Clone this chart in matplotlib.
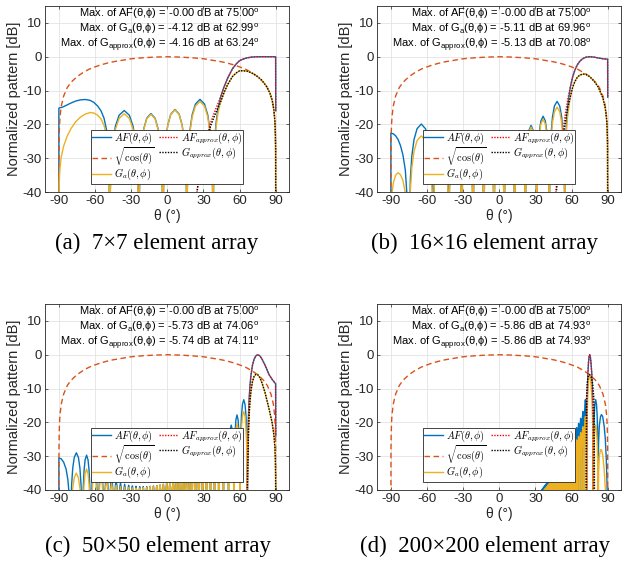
import matplotlib
matplotlib.use("Agg")
import matplotlib.pyplot as plt
from matplotlib.font_manager import FontProperties

plt.rcParams['font.family'] = ['Liberation Sans', 'DejaVu Sans']
plt.rcParams['axes.unicode_minus'] = False
plt.rcParams['mathtext.fontset'] = 'custom'
plt.rcParams['mathtext.rm'] = 'Liberation Sans'
plt.rcParams['mathtext.it'] = 'Liberation Sans:italic'

FLOOR = -60  # deep nulls, drawn below the -40 dB limit and clipped

# element pattern sqrt(cos(theta)) in dB, same for every array size
elem_theta = [-90, -89.9, -89.7, -89.4, -89, -88, -86, -83, -80, -75, -70, -65, -60, -55, -50,
              -45, -40, -30, -20, -10, 0, 10, 20, 30, 40, 45, 50, 55, 60, 65, 70, 75, 80, 83,
              86, 88, 89, 89.4, 89.7, 89.9, 90]
elem_db = [-60, -27.6, -22.8, -19.8, -17.6, -14.6, -11.6, -9.1, -7.6, -5.9, -4.7, -3.7, -3.0, -2.4,
           -1.9, -1.5, -1.2, -0.6, -0.3, -0.1, 0, -0.1, -0.3, -0.6, -1.2, -1.5, -1.9, -2.4, -3.0,
           -3.7, -4.7, -5.9, -7.6, -9.1, -11.6, -14.6, -17.6, -19.8, -22.8, -27.6, -60]

# level under the peak across half a sidelobe (fraction of the way from null to peak)
HALF_LOBE = [(0.03, -26.5), (0.1, -16.1), (0.22, -9.4), (0.4, -4.6), (0.65, -1.4)]

# ---- 7x7 array ----
a_af_edge = [(-90, -60), (-89.99, -15.2), (-87, -14.9), (-84, -14.4), (-80, -13.7), (-76, -13.1),
             (-72, -12.75), (-68, -12.65), (-64, -12.9), (-61, -13.5), (-58, -14.5), (-55, -16.0),
             (-52.5, -18.2), (-50.5, -21.5), (-49.2, -26.0), (-48.3, -33.0)]
a_ga_edge = [(-90, -60), (-89.7, -38.0), (-89.4, -34.9), (-89, -32.7), (-88, -29.6), (-86, -26.4),
             (-83, -23.4), (-80, -21.3), (-76, -19.2), (-72, -17.85), (-68, -16.95), (-64, -16.5),
             (-61, -16.65), (-58, -17.25), (-55, -18.4), (-52.5, -20.3), (-50.5, -23.45),
             (-49.2, -27.9), (-48.3, -34.8)]
a_nulls = [-47.9, -23.6, -3.6, 16.3, 37.9]
a_af_tops = [-15.9, -16.8, -15.6, -12.6]
a_ga_tops = [-16.85, -17.0, -15.7, -13.2]
a_af_main = [(38.6, -30), (39.3, -24.5), (40.5, -19.5), (42, -15.5), (44, -12.2), (47, -9.0),
             (50, -6.4), (54, -3.6), (57, -2.2), (60, -1.15), (63, -0.69), (66, -0.35), (70, -0.1),
             (74, -0.02), (78, 0), (84, 0), (89.9, 0), (90, -16)]
a_ga_main = [(38.6, -31.1), (39.3, -25.6), (40.5, -20.7), (42, -16.8), (44, -13.6), (47, -10.7),
             (50, -8.3), (54, -5.9), (57, -4.84), (60, -4.16), (62.99, -4.12), (66, -4.26),
             (70, -4.76), (74, -5.62), (78, -6.82), (82, -8.56), (85, -10.6), (87, -12.8),
             (88.5, -15.8), (89.3, -19.1), (89.7, -22.8), (89.9, -27.6), (90, -60)]
a_af_apx = [(22, -60), (24.6, -40), (27, -33), (30, -27.5), (32.4, -24.5), (36, -19.5), (40, -15.6),
            (44, -12.2), (47, -9.0), (50, -6.4), (54, -3.6), (57, -2.2), (60, -1.15), (63, -0.69),
            (66, -0.35), (70, -0.1), (74, -0.02), (78, 0), (84, 0), (89.9, 0), (90, -16)]
a_g_apx = [(22, -60), (24.6, -40.4), (27, -33.5), (30, -28.1), (32.4, -25.2), (36, -20.4),
           (40, -16.8), (44, -13.6), (47, -10.7), (50, -8.3), (54, -5.9), (57, -4.84), (60, -4.16),
           (63.24, -4.16), (66, -4.26), (70, -4.76), (74, -5.62), (78, -6.82), (82, -8.56),
           (85, -10.6), (87, -12.8), (88.5, -15.8), (89.3, -19.1), (89.7, -22.8), (89.9, -27.6),
           (90, -60)]

# ---- 16x16 array ----
b_af_edge = [(-90, -60), (-89.99, -22.6), (-88, -22.8), (-86, -23.4), (-84, -24.5), (-82, -26.3),
             (-80, -29.0), (-78, -33.5), (-76.8, -40)]
b_ga_edge = [(-90, -60), (-89.7, -45.4), (-89, -40.3), (-88, -37.4), (-86, -35.0), (-84, -34.3),
             (-82, -34.9), (-80, -36.6), (-78, -40.3), (-76.8, -46.4)]
b_nulls = [-74.8, -54.7, -41.9, -31.3, -21.8, -12.9, -4.4, 4.1, 12.7, 21.6, 31.1, 41.6, 54.3]
b_af_tops = [-19.9, -21.9, -23.1, -23.6, -23.9, -23.9, -23.7, -23.3, -22.6, -20.3, -17.6, -13.2]
b_ga_tops = [-23.4, -23.7, -24.0, -24.1, -24.1, -23.95, -23.7, -23.35, -22.8, -20.8, -18.5, -14.9]
b_af_main = [(54.7, -32), (55.1, -25.6), (55.8, -19.2), (56.6, -15.4), (57.5, -12.6), (59, -8.9),
             (60.9, -5.9), (62.8, -3.9), (64.7, -2.4), (67, -1.28), (69.2, -0.58), (72, -0.13),
             (75, 0), (78.9, -0.14), (82, -0.36), (86, -0.6), (89.9, -0.72), (90, -12)]
b_ga_main = [(54.7, -34.4), (55.1, -28.0), (55.8, -21.7), (56.6, -18.0), (57.5, -15.3),
             (59, -11.8), (60.9, -9.0), (62.8, -7.3), (64.7, -6.1), (67, -5.37), (69.96, -5.11),
             (72, -5.23), (75, -5.87), (78.9, -7.3), (82, -8.9), (86, -12.2), (88, -15.3),
             (89, -18.3), (89.5, -21.3), (89.8, -25.3), (90, -60)]
b_af_apx = [(45, -60), (46.8, -40), (49, -33), (51, -27), (53, -21.5), (55, -16.5), (57, -12.2),
            (59, -8.9), (60.9, -5.9), (62.8, -3.9), (64.7, -2.4), (67, -1.28), (69.2, -0.58),
            (72, -0.13), (75, 0), (78.9, -0.14), (82, -0.36), (86, -0.6), (89.9, -0.72), (90, -12)]
b_g_apx = [(45, -60), (46.8, -41.6), (49, -34.8), (51, -29.0), (53, -23.7), (55, -18.9),
           (57, -14.8), (59, -11.8), (60.9, -9.0), (62.8, -7.3), (64.7, -6.1), (67, -5.37),
           (70.08, -5.13), (72, -5.23), (75, -5.87), (78.9, -7.3), (82, -8.9), (86, -12.2),
           (88, -15.3), (89, -18.3), (89.5, -21.3), (89.8, -25.3), (90, -60)]

# ---- 50x50 array ----
c_af_edge = [(-90, -60), (-89.99, -30.5), (-88, -30.8), (-86, -31.8), (-84, -33.8), (-82.5, -37.0),
             (-81.3, -42)]
c_ga_edge = [(-90, -60), (-86, -43.4), (-84, -43.6), (-82.5, -46)]
c_nulls = [-80.5, -70.5, -63.5, -57.5, -52.5, -48.2, -44.3, -40.6, -37.1, -33.7, -30.5, -27.4,
           -24.4, -21.4, -18.5, -15.7, -12.9, -10.1, -7.4, -4.6, -1.9, 0.8, 3.6, 6.3, 9.0, 11.8,
           14.6, 17.4, 20.3, 23.2, 26.2, 29.3, 32.5, 35.8, 39.2, 42.8, 46.6, 50.8, 55.3, 60.4, 66.5]
c_af_tops = [-29.0, -29.7, -32.0, -34.0, -35.5, -36.5, -37.3, -37.9, -38.3, -38.6, -38.8, -38.9,
             -39.0, -39.0, -39.0, -38.9, -38.8, -38.7, -38.5, -38.3, -38.0, -37.8, -37.4, -36.9,
             -36.3, -35.6, -34.9, -34.1, -33.2, -32.2, -31.1, -30.0, -28.9, -27.7, -26.4, -24.9,
             -23.0, -20.8, -17.8, -13.3]
c_ga_tops = [-35.0, -33.8, -35.1, -36.4, -37.45, -38.1, -38.6, -39.0, -39.2, -39.3, -39.4, -39.4,
             -39.4, -39.3, -39.2, -39.0, -38.9, -38.75, -38.5, -38.3, -38.0, -37.8, -37.4, -36.9,
             -36.4, -35.7, -35.1, -34.3, -33.5, -32.7, -31.6, -30.7, -29.7, -28.7, -27.6, -26.4,
             -24.8, -23.0, -20.5, -16.8]
c_af_main = [(66.6, -34), (66.85, -25.6), (67.2, -19.2), (67.95, -12.6), (68.7, -8.7), (69.5, -5.9),
             (70.7, -3.1), (72.0, -1.35), (73.5, -0.32), (75, 0), (76.8, -0.32), (78.7, -1.35),
             (81.1, -3.1), (84.5, -5.9), (87, -7.3), (89.9, -8.6), (90, -24)]
c_ga_main = [(66.6, -38.0), (66.85, -29.65), (67.2, -23.3), (67.95, -16.9), (68.7, -13.1),
             (69.5, -10.5), (70.7, -7.9), (72.0, -6.45), (73.5, -5.79), (74.06, -5.73), (75, -5.87),
             (76.8, -6.73), (78.7, -8.43), (81.1, -11.2), (84.5, -16.1), (87, -20.1), (88.5, -23.8),
             (89.3, -27.4), (89.7, -31.3), (89.9, -36.2), (90, -60)]
c_af_apx = [(65.5, -60), (66.3, -40), (66.8, -30), (67.3, -21), (67.95, -13.5), (68.7, -9.2),
            (69.5, -6.0), (70.7, -3.1), (72.0, -1.35), (73.5, -0.32), (75, 0), (76.8, -0.32),
            (78.7, -1.35), (81.1, -3.1), (84.5, -5.9), (87, -7.3), (89.9, -8.6), (90, -24)]
c_g_apx = [(65.5, -60), (66.3, -44.0), (66.8, -34.0), (67.3, -25.1), (67.95, -17.8), (68.7, -13.6),
           (69.5, -10.6), (70.7, -7.9), (72.0, -6.45), (73.5, -5.79), (74.11, -5.74), (75, -5.87),
           (76.8, -6.73), (78.7, -8.43), (81.1, -11.2), (84.5, -16.1), (87, -20.1), (88.5, -23.8),
           (89.3, -27.4), (89.7, -31.3), (89.9, -36.2), (90, -60)]

# ---- 200x200 array ----
d_nulls = [34.19, 35.01, 35.85, 36.70, 37.55, 38.41, 39.28, 40.16, 41.06, 41.97, 42.89, 43.82,
           44.77, 45.74, 46.72, 47.72, 48.75, 49.79, 50.85, 51.94, 53.06, 54.21, 55.39, 56.60,
           57.87, 59.17, 60.53, 61.93, 63.41, 64.97, 66.63, 68.42, 70.36, 72.47]
d_af_tops = [-40.2, -39.8, -39.4, -39.0, -38.6, -38.2, -37.8, -37.3, -36.8, -36.3, -35.8, -35.3,
             -34.7, -34.1, -33.5, -32.9, -32.2, -31.5, -30.8, -30.1, -29.3, -28.5, -27.7, -26.8,
             -25.9, -24.9, -23.9, -22.8, -21.6, -20.3, -18.8, -16.8, -13.3]
d_ga_tops = [-41.0, -40.7, -40.3, -40.0, -39.6, -39.3, -38.9, -38.5, -38.1, -37.6, -37.2, -36.8,
             -36.2, -35.7, -35.2, -34.7, -34.1, -33.5, -32.9, -32.3, -31.6, -30.9, -30.2, -29.5,
             -28.7, -27.9, -27.1, -26.2, -25.2, -24.2, -23.0, -21.3, -18.3]
d_af_main = [(72.6, -25.6), (72.7, -19.2), (72.97, -12.6), (73.5, -5.9), (74.0, -2.4), (74.5, -0.6),
             (75, 0), (75.55, -0.6), (76.1, -2.4), (76.8, -5.9), (77.4, -12.6), (77.7, -19.2),
             (77.85, -25.6)]
d_ga_main = [(72.6, -30.8), (72.7, -24.5), (72.97, -17.9), (73.5, -11.4), (74.0, -8.0), (74.5, -6.3),
             (74.93, -5.86), (75.55, -6.63), (76.1, -8.6), (76.8, -12.3), (77.4, -19.2),
             (77.7, -25.9), (77.85, -32.4)]
d_right_nulls = [78.0, 82.0]
d_af_right_tops = [-13.3]
d_ga_right_tops = [-20.8]
d_af_tail = [(82.15, -32), (82.4, -26), (83, -21), (84, -18.3), (84.8, -17.7), (85.8, -18.3),
             (87, -21), (88, -25), (88.8, -31), (89.4, -38), (90, -48)]
d_ga_tail = [(82.4, -34.8), (83, -30.1), (84, -28.1), (84.8, -28.1), (85.8, -29.5), (87, -33.8),
             (88, -39.6), (88.8, -47.8), (90, -60)]
d_af_apx = [(72.2, -60), (72.45, -30), (72.7, -19.2), (72.97, -12.6), (73.5, -5.9), (74, -2.4),
            (74.5, -0.6), (75, 0), (75.55, -0.6), (76.1, -2.4), (76.8, -5.9), (77.4, -12.6),
            (77.7, -19.2), (78.0, -30), (78.3, -60)]
d_g_apx = [(71.9, -60), (72.1, -30), (72.4, -13), (72.9, -8.5), (73.6, -6.6), (74.93, -5.86),
           (76.3, -6.6), (77.5, -8.5), (78.5, -13), (78.9, -30), (79.1, -60)]

# stated maxima: (AF dB, AF deg, Ga dB, Ga deg, Gapprox dB, Gapprox deg)
max_a = (-0.0, 75.00, -4.12, 62.99, -4.16, 63.24)
max_b = (-0.0, 75.00, -5.11, 69.96, -5.13, 70.08)
max_c = (-0.0, 75.00, -5.73, 74.06, -5.74, 74.11)
max_d = (-0.0, 75.00, -5.86, 74.93, -5.86, 74.93)

captions = ["(a)  7×7 element array", "(b)  16×16 element array",
            "(c)  50×50 element array", "(d)  200×200 element array"]


def lobes(nulls, tops):
    # null - rise - peak - fall - null for each sidelobe between two nulls
    th, db = [nulls[0]], [FLOOR]
    for a, b, top in zip(nulls[:-1], nulls[1:], tops):
        mid = (a + b) / 2
        for f, drop in HALF_LOBE:
            th.append(a + f * (mid - a))
            db.append(top + drop)
        th.append(mid)
        db.append(top)
        for f, drop in reversed(HALF_LOBE):
            th.append(b - f * (b - mid))
            db.append(top + drop)
        th.append(b)
        db.append(FLOOR)
    return th, db


def join(*parts):
    th, db = [], []
    for p in parts:
        if isinstance(p, tuple):
            t, d = p
        else:
            t, d = zip(*p)
        th += list(t)
        db += list(d)
    return th, db


curves = [
    (join(a_af_edge, lobes(a_nulls, a_af_tops), a_af_main),
     join(a_ga_edge, lobes(a_nulls, a_ga_tops), a_ga_main),
     join(a_af_apx), join(a_g_apx), max_a),
    (join(b_af_edge, lobes(b_nulls, b_af_tops), b_af_main),
     join(b_ga_edge, lobes(b_nulls, b_ga_tops), b_ga_main),
     join(b_af_apx), join(b_g_apx), max_b),
    (join(c_af_edge, lobes(c_nulls, c_af_tops), c_af_main),
     join(c_ga_edge, lobes(c_nulls, c_ga_tops), c_ga_main),
     join(c_af_apx), join(c_g_apx), max_c),
    (join(lobes(d_nulls, d_af_tops), d_af_main, lobes(d_right_nulls, d_af_right_tops), d_af_tail),
     join(lobes(d_nulls, d_ga_tops), d_ga_main, lobes(d_right_nulls, d_ga_right_tops), d_ga_tail),
     join(d_af_apx), join(d_g_apx), max_d),
]

W, H = 630, 563
fig = plt.figure(figsize=(W / 100, H / 100), dpi=100)
# axes boxes in pixels: left, top
boxes = [(45, 6), (377, 6), (45, 304), (377, 304)]
caption_xy = [(157, 243), (484, 243), (158, 546), (485, 546)]
aw, ah = 244, 186

c_blue, c_orange, c_yellow = '#0072BD', '#D95319', '#EDB120'
leg_font = FontProperties(size=7.4, math_fontfamily='cm')

for (af, ga, afx, gx, mx), (lx, ty), (cx, cy), cap in zip(curves, boxes, caption_xy, captions):
    ax = fig.add_axes([lx / W, 1 - (ty + ah) / H, aw / W, ah / H])
    h1, = ax.plot(af[0], af[1], color=c_blue, lw=1.0, label=r'$AF(\theta,\phi)$')
    h2, = ax.plot(elem_theta, elem_db, color=c_orange, lw=1.0, ls=(0, (4, 2.5)),
                  label=r'$\sqrt{\cos(\theta)}$')
    h3, = ax.plot(ga[0], ga[1], color=c_yellow, lw=1.0, label=r'$G_a(\theta,\phi)$')
    h4, = ax.plot(afx[0], afx[1], color='red', lw=1.0, ls=(0, (1, 1)),
                  label=r'$AF_{approx}(\theta,\phi)$')
    h5, = ax.plot(gx[0], gx[1], color='black', lw=1.0, ls=(0, (1, 1)),
                  label=r'$G_{approx}(\theta,\phi)$')

    ax.set_xlim(-101.5, 101)
    ax.set_ylim(-40, 15)
    ax.set_xticks([-90, -60, -30, 0, 30, 60, 90])
    ax.set_xticklabels(['-90', '-60', '-30', '0', '30', '60', '90'])
    ax.set_yticks([-40, -30, -20, -10, 0, 10])
    ax.set_yticklabels(['-40', '-30', '-20', '-10', '0', '10'])
    ax.grid(True, color='#e3e3e3', lw=0.6)
    ax.set_axisbelow(True)
    ax.tick_params(direction='in', top=True, right=True, length=2.5, width=0.5,
                   labelsize=9.5, colors='#262626', pad=2.5)
    for s in ax.spines.values():
        s.set_color('#262626')
        s.set_linewidth(0.6)
    ax.set_xlabel('θ (°)', fontsize=10, color='#262626', labelpad=1)
    ax.set_ylabel('Normalized pattern [dB]', fontsize=10.5, color='#262626', labelpad=1)

    lines = [
        f"Max. of AF(θ,ϕ) = {mx[0]:.2f} dB at {mx[1]:.2f}$^\\mathrm{{o}}$",
        f"Max. of G$_\\mathrm{{a}}$(θ,ϕ) = {mx[2]:.2f} dB at {mx[3]:.2f}$^\\mathrm{{o}}$",
        f"Max. of G$_\\mathrm{{approx}}$(θ,ϕ) = {mx[4]:.2f} dB at {mx[5]:.2f}$^\\mathrm{{o}}$",
    ]
    for txt, yy in zip(lines, [11.6, 7.2, 2.8]):
        ax.text(76.5, yy, txt, ha='right', va='baseline', fontsize=8, color='black')

    leg = ax.legend(handles=[h1, h2, h3, h4, h5], ncol=2, loc='lower center',
                    bbox_to_anchor=(0.5, 0.045), prop=leg_font, frameon=True, fancybox=False,
                    framealpha=1, edgecolor='#262626', handlelength=1.8, handletextpad=0.3,
                    columnspacing=0.5, labelspacing=-0.08, borderpad=0.12, borderaxespad=0)
    leg.get_frame().set_linewidth(0.6)

    fig.text(cx / W, 1 - cy / H, cap, ha='center', va='center', fontsize=16.5,
             family='Liberation Serif')

fig.savefig('out.png', dpi=100)
